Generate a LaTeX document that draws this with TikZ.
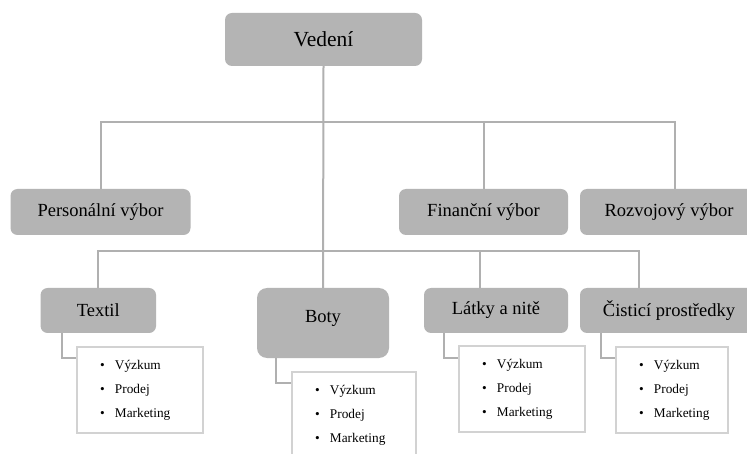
\documentclass[tikz,border=0pt]{standalone}
\usepackage{fontspec}
\setmainfont{Liberation Serif}
\definecolor{boxgray}{HTML}{B4B4B4}
\definecolor{linegray}{HTML}{B0B0B0}
\definecolor{listgray}{HTML}{D2D2D2}
\tikzset{
  tbox/.style={rectangle, rounded corners=7pt, fill=boxgray, draw=none, inner sep=0pt,
    font=\fontsize{18.5}{22}\selectfont},
  lbox/.style={rectangle, draw=listgray, line width=2pt, fill=white, anchor=north west,
    minimum height=86pt, inner xsep=0pt, inner ysep=0pt, align=left,
    font=\fontsize{13.3}{24}\selectfont},
  conn/.style={draw=linegray, line width=2pt},
}
\newcommand{\itm}[1]{\hspace*{23pt}\makebox[15pt][l]{•}#1}
\newcommand{\lst}{\itm{Výzkum}\\\itm{Prodej}\\\itm{Marketing}}
\begin{document}
\begin{tikzpicture}[x=1pt,y=-1pt]
\clip (0,0) rectangle (747,454);
\fill[white] (0,0) rectangle (747,454);

% top
\node[tbox, minimum width=197pt, minimum height=53pt, font=\fontsize{21.5}{25}\selectfont] (V) at (323.5,39.5) {Vedení};
% level 1
\node[tbox, minimum width=180pt, minimum height=46pt] (P) at (100.5,212) {Personální výbor};
\node[tbox, minimum width=169pt, minimum height=46pt] (F) at (483.5,212) {Finanční výbor};
\node[tbox, minimum width=178pt, minimum height=46pt] (R) at (669,212) {Rozvojový výbor};
% level 2
\node[tbox, minimum width=115.5pt, minimum height=45pt] (T) at (98.3,310.5) {Textil};
\node[tbox, rounded corners=10pt, minimum width=132pt, minimum height=70pt] (B) at (323,323) {\smash{Boty}};
\node[tbox, minimum width=144pt, minimum height=45pt] (L) at (496,310.5) {Látky a nitě};
\node[tbox, minimum width=178pt, minimum height=45pt] (C) at (669,310.5) {Čisticí prostředky};

% buses
\coordinate (b1) at (323,122);
\coordinate (b2) at (323,251);
\draw[conn] (V.south) -- (B.north);
\draw[conn] (P.north) |- (b1) -| ([xshift=6pt]R.north);
\draw[conn] (F.north) -- (F.north |- b1);
\draw[conn] (T.north) |- (b2) -| ([xshift=-30pt]C.north);
\draw[conn] ([xshift=-16pt]L.north) -- ([xshift=-16pt]L.north |- b2);

% lists
\node[lbox, minimum width=125.5pt, text width=125.5pt] (tl) at (76,346) {\lst};
\node[lbox, minimum width=124pt, text width=124pt] (bl) at (291,371) {\lst};
\node[lbox, minimum width=126pt, text width=126pt] (ll) at (458,345) {\lst};
\node[lbox, minimum width=112pt, text width=112pt] (cl) at (615,346) {\lst};

% list connectors
\draw[conn] ([xshift=21.5pt]T.south west) |- ([yshift=-12pt]tl.north west);
\draw[conn] ([xshift=19pt]B.south west) |- ([yshift=-12pt]bl.north west);
\draw[conn] ([xshift=20pt]L.south west) |- ([yshift=-13pt]ll.north west);
\draw[conn] ([xshift=21pt]C.south west) |- ([yshift=-12pt]cl.north west);
\end{tikzpicture}
\end{document}
